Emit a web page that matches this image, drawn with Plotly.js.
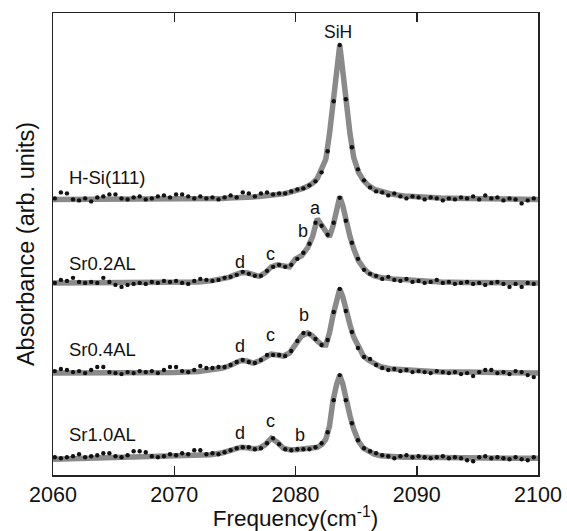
<!DOCTYPE html>
<html>
<head>
<meta charset="utf-8">
<script src="https://cdn.plot.ly/plotly-3.0.1.min.js"></script>
<style>html,body{margin:0;padding:0;background:#fff;}#chart{width:567px;height:531px;}</style>
</head>
<body>
<div id="chart"></div>
<script>
// Sample names (top to bottom) and vertical stacking offsets (arb. units)
var sampleNames = ["H-Si(111)", "Sr0.2AL", "Sr0.4AL", "Sr1.0AL"];
var stackOffsets = [275, 191.7, 101.7, 16.7];

// Measured data points: frequency (cm^-1)
var dotFreq = [2060.15,2060.65,2061.15,2061.65,2062.15,2062.65,2063.15,2063.65,2064.15,2064.65,
  2065.15,2065.65,2066.15,2066.65,2067.15,2067.65,2068.15,2068.65,2069.15,2069.65,
  2070.15,2070.65,2071.15,2071.65,2072.15,2072.65,2073.15,2073.65,2074.15,2074.65,
  2075.15,2075.65,2076.15,2076.65,2077.15,2077.65,2078.15,2078.65,2079.15,2079.65,
  2080.15,2080.65,2081.15,2081.65,2082.15,2082.65,2083.15,2083.65,2084.15,2084.65,
  2085.15,2085.65,2086.15,2086.65,2087.15,2087.65,2088.15,2088.65,2089.15,2089.65,
  2090.15,2090.65,2091.15,2091.65,2092.15,2092.65,2093.15,2093.65,2094.15,2094.65,
  2095.15,2095.65,2096.15,2096.65,2097.15,2097.65,2098.15,2098.65,2099.15,2099.65];

// Measured absorbance (arb. units) per sample
var dotsHSi = [1,7,6,0,-1,1,-2,2,3,5, 5,1,0,2,3,0,1,3,4,2, 5,5,3,1,3,1,2,0,2,4,
  2,7,6,3,6,7,5,6,6,8, 10,11,14,18,27,48,98,154,100,52, 30,19,12,8,7,4,6,3,1,3,
  2,0,2,1,-1,1,0,2,1,3, 0,4,1,2,-1,1,0,-4,-1,1];
var dotsSr02 = [0,3,2,5,1,0,1,0,5,1, -2,-4,-2,-1,0,-1,1,0,2,1, 2,0,-1,2,4,3,2,3,5,6,
  8,11,9,7,7,12,16,18,16,18, 24,30,39,60,57,48,60,85,62,40, 24,13,9,7,4,6,3,2,4,1,
  2,0,1,3,0,1,-1,0,1,-1, 0,-2,0,1,-1,-4,-1,-4,0,-1];
var dotsSr04 = [2,4,3,1,2,0,3,6,6,1, 0,-1,1,0,2,1,2,0,3,6, 6,2,1,3,7,5,5,6,6,8,
  11,13,11,10,13,18,18,18,17,22, 32,40,39,34,28,33,61,84,62,41, 25,16,14,8,5,3,4,2,3,1,
  2,1,0,2,1,0,1,-1,0,-3, 1,3,3,0,1,-1,2,1,-2,-4];
var dotsSr10 = [1,0,1,2,4,1,2,3,5,5, 2,1,3,7,7,6,2,1,2,4, 3,5,4,8,8,4,5,4,6,8,
  10,11,11,9,10,15,20,14,9,8, 9,9,9,11,15,26,58,83,58,35, 18,10,7,5,3,2,0,2,3,1,
  2,1,0,1,2,0,1,0,-2,-3, 1,2,0,1,0,-1,1,-1,-2,1];

// Fitted curves: frequency (cm^-1)
var fitFreq = [2060,2062,2064,2066,2068,2070,2072,2073,2074,
  2074.5,2075,2075.5,2076,2076.5,2077,2077.5,2078,2078.5,2079,2079.5,2080,2080.5,2081,
  2081.4,2081.8,2082.2,2082.5,2082.8,2083.1,2083.4,2083.65,2083.9,2084.2,2084.5,2084.8,2085.2,2085.6,2086,2086.5,2087,
  2088,2089,2090,2092,2094,2096,2098,2100];
var fitHSi = [0,0,0,0,0,0,0.5,1,1,
  1.5,1.5,2,2,2.5,3,3.5,4,4.5,5.5,7,8.5,10.5,13,
  16,21,31,40,65,96,132,154,128,93,65,42,27,19,14,10,8,
  5,3.5,2.5,1.5,1,0.5,0,0];
var fitSr02 = [0,0,0,0,0,0.5,1,2,4,
  5.5,8,10,10,8,6.5,10,16,18,16.5,16,24,27,35,
  46,64,56,50,46,57,74,86,77,60,46,34,22,15,10,7,5.5,
  4,3,2,1,0.5,0,0,0];
var fitSr04 = [0,0,0,0,0,0.5,1.5,3,5,
  7,10,12.5,12,10,12,16,19,18,17,20,29,37,40,
  37,32,28,28,40,58,74,84,76,60,48,36,25,17,13,9,6.5,
  4,3,2,1,1,0.5,0,0];
var fitSr10 = [-1,-0.5,0.5,1,1,1.5,2.5,3.5,5.5,
  7.5,10,11,10.5,9.5,10,13.5,20,16,10,8.5,8.5,9,9,
  9.5,11,14,19,32,58,74,83,74,55,42,29,17,10,7,4,2.5,
  1.5,1,1,0.5,0.5,0,0,0];

var dotSets = [dotsHSi, dotsSr02, dotsSr04, dotsSr10];
var fitSets = [fitHSi, fitSr02, fitSr04, fitSr10];

var traces = [];
for (var k = 0; k < sampleNames.length; k++) {
  var off = stackOffsets[k];
  traces.push({
    x: fitFreq, y: fitSets[k].map(function (v) { return v + off; }),
    type: 'scatter', mode: 'lines', name: sampleNames[k] + ' fit',
    line: {color: '#8a8a8a', width: 5.5}, hoverinfo: 'skip'
  });
}
for (var k2 = 0; k2 < sampleNames.length; k2++) {
  var off2 = stackOffsets[k2];
  traces.push({
    x: dotFreq, y: dotSets[k2].map(function (v) { return v + off2; }),
    type: 'scatter', mode: 'markers', name: sampleNames[k2],
    marker: {color: '#111', size: 4.4}
  });
}

var txt = {family: 'Arial, "Liberation Sans", sans-serif', color: '#111'};
function ann(x, y, t, size, xanchor) {
  return {x: x, y: y, xref: 'x', yref: 'y', text: t, showarrow: false,
    xanchor: xanchor || 'center', yanchor: 'middle',
    font: {family: txt.family, color: txt.color, size: size}};
}

var layout = {
  width: 567, height: 531,
  margin: {l: 53, r: 29, t: 13, b: 56},
  paper_bgcolor: '#fff', plot_bgcolor: '#fff',
  showlegend: false,
  font: txt,
  xaxis: {
    range: [2060, 2100], tickvals: [2060, 2070, 2080, 2090, 2100],
    ticks: 'inside', ticklen: 9, tickwidth: 1.5, tickcolor: '#222',
    showline: true, linewidth: 1.5, linecolor: '#222', mirror: 'ticks',
    showgrid: false, zeroline: false,
    tickfont: {family: txt.family, size: 21.5, color: '#111'},
    title: {text: 'Frequency(cm<sup>-1</sup>)', font: {family: txt.family, size: 22.5, color: '#111'}, standoff: 6}
  },
  yaxis: {
    range: [0, 461], showticklabels: false, ticks: '',
    showline: true, linewidth: 1.5, linecolor: '#222', mirror: true,
    showgrid: false, zeroline: false,
    title: {text: 'Absorbance (arb. units)', font: {family: txt.family, size: 23.5, color: '#111'}, standoff: 10}
  },
  annotations: [
    ann(2083.5, 442, 'SiH', 17.5),
    ann(2061.13, 297, 'H-Si(111)', 18.5, 'left'),
    ann(2061.13, 211.5, 'Sr0.2AL', 18.5, 'left'),
    ann(2061.13, 125.5, 'Sr0.4AL', 18.5, 'left'),
    ann(2061.13, 40, 'Sr1.0AL', 18.5, 'left'),
    ann(2081.68, 266, 'a', 18),
    ann(2080.62, 243.3, 'b', 18),
    ann(2077.93, 221, 'c', 18),
    ann(2075.46, 212.3, 'd', 18),
    ann(2080.68, 160, 'b', 18),
    ann(2077.93, 139.3, 'c', 18),
    ann(2075.46, 128.3, 'd', 18),
    ann(2080.41, 40, 'b', 18),
    ann(2077.93, 54.3, 'c', 18),
    ann(2075.46, 42.3, 'd', 18)
  ]
};

Plotly.newPlot('chart', traces, layout, {displayModeBar: false, staticPlot: true});
</script>
</body>
</html>
